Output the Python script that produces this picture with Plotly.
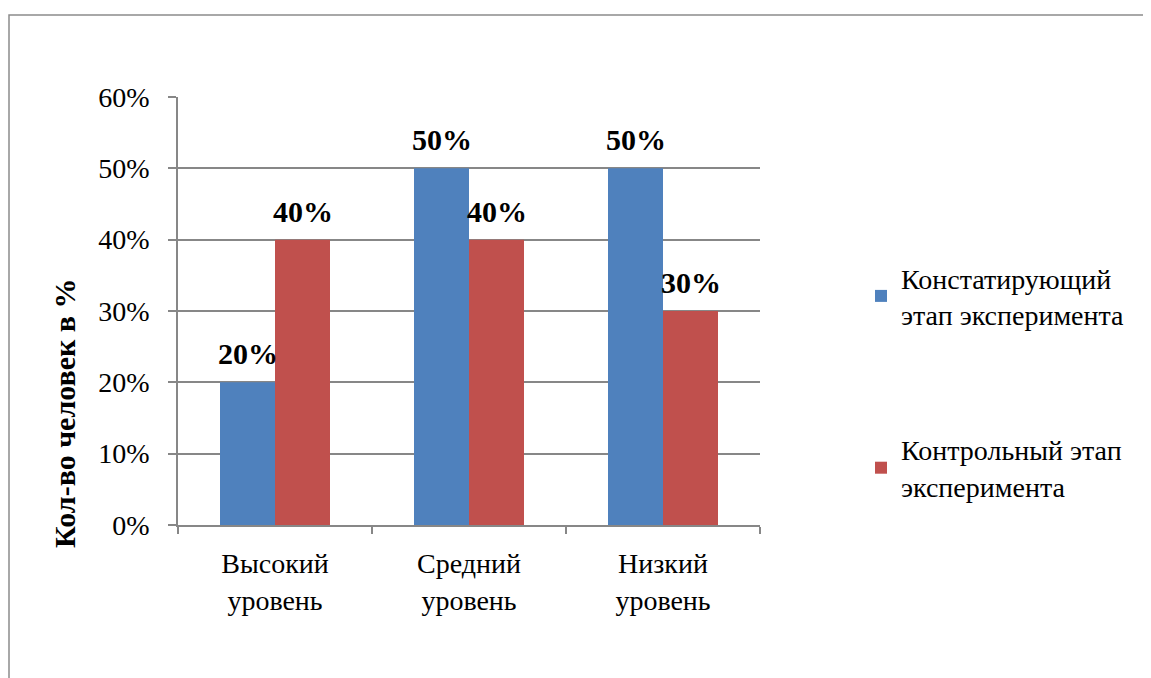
import plotly.graph_objects as go

categories = ["Высокий<br>уровень", "Средний<br>уровень", "Низкий<br>уровень"]
series_names = ["Констатирующий<br>этап эксперимента", "Контрольный этап<br>эксперимента"]
stage1 = [20, 50, 50]
stage2 = [40, 40, 30]
colors = ["#4F81BD", "#C0504D"]
y_ticks = [0, 10, 20, 30, 40, 50, 60]
y_title = "Кол-во человек в %"

FONT = "'Liberation Serif', 'Times New Roman', Times, serif"
GRID = "#878787"
FS = 28

# plot area in screenshot pixels (reference): x 178..760, y 97..525
PL, PR, PT, PB = 178, 760, 97, 525
PW, PH = PR - PL, PB - PT


def px(x):
    return (x - PL) / PW


def py(y):
    return (PB - y) / PH


fig = go.Figure()
for i, (name, vals) in enumerate(zip(series_names, [stage1, stage2])):
    fig.add_trace(go.Bar(
        x=categories, y=vals, name=name, marker_color=colors[i],
        marker_line_width=0, legendgroup=f"g{i}",
    ))

# data labels
for i, vals in enumerate([stage1, stage2]):
    for c, v in zip(categories, vals):
        fig.add_annotation(
            x=c, y=v, text=f"<b>{v}%</b>", showarrow=False,
            xshift=(-27.5 if i == 0 else 27.5), yanchor="bottom", yshift=10,
            font=dict(family=FONT, size=30, color="black"),
        )

fig.add_annotation(
    xref="paper", yref="paper", x=px(64), y=py(413),
    xanchor="center", yanchor="middle",
    text=f"<b>{y_title}</b>", textangle=-90, showarrow=False,
    font=dict(family=FONT, size=30, color="black"),
)

# outer chart-area border
fig.add_shape(type="rect", xref="paper", yref="paper",
              x0=px(9), x1=3, y0=-1, y1=py(15),
              line=dict(color="#8c8c8c", width=1.5), fillcolor="rgba(0,0,0,0)", layer="below")

# page body has an 8px margin, so figure coordinates are shifted by 8px
OFF = 8
fig.update_layout(
    width=1151, height=678,
    margin=dict(l=PL - OFF, r=1151 - (PR - OFF), t=PT - OFF, b=678 - (PB - OFF), autoexpand=False),
    plot_bgcolor="white", paper_bgcolor="white",
    barmode="group", bargap=0.433, bargroupgap=0,
    font=dict(family=FONT, size=FS, color="black"),
    legend=dict(
        x=px(861), y=py(253), xanchor="left", yanchor="top",
        font=dict(family=FONT, size=FS, color="black"),
        tracegroupgap=96, bgcolor="rgba(0,0,0,0)",
    ),
    showlegend=True,
)
fig.update_xaxes(
    showline=True, linecolor=GRID, linewidth=1.5,
    tickson="boundaries", ticks="outside", ticklen=7, tickcolor=GRID, tickwidth=1.5,
    tickfont=dict(family=FONT, size=FS, color="black"), showgrid=False,
    ticklabelstandoff=13,
)
fig.update_yaxes(
    range=[0, 60], tickvals=y_ticks, ticktext=[f"{t}%" for t in y_ticks],
    showline=True, linecolor=GRID, linewidth=1.5,
    ticks="outside", ticklen=8, tickcolor=GRID, tickwidth=1.5,
    showgrid=True, gridcolor=GRID, gridwidth=1.5, zeroline=False,
    tickfont=dict(family=FONT, size=FS, color="black"), ticklabelstandoff=13,
)

fig.write_html("out.html")
